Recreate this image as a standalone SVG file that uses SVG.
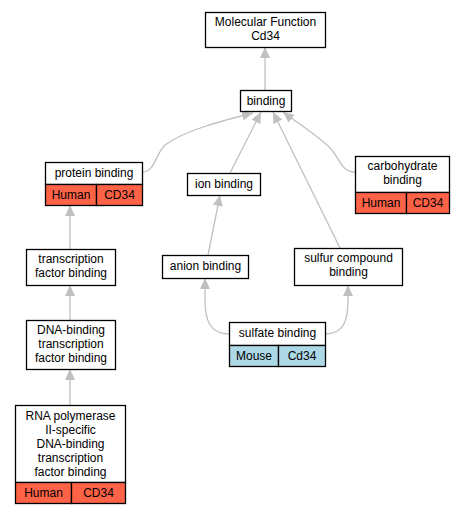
<svg xmlns="http://www.w3.org/2000/svg" width="465" height="515" viewBox="0 0 465 515">
<style>
.box{fill:#fff;stroke:#000;stroke-width:1.3}
.hu{fill:#ff6347;stroke:#000;stroke-width:1.3}
.mo{fill:#add8e6;stroke:#000;stroke-width:1.3}
text{font-family:"Liberation Sans",Arial,sans-serif;font-size:12px;text-anchor:middle;fill:#000}
.e{fill:none;stroke:#c0c0c0;stroke-width:1.3;marker-end:url(#ah)}
</style>
<defs>
<marker id="ah" markerUnits="userSpaceOnUse" viewBox="0 0 11 10" markerWidth="11" markerHeight="10" refX="11" refY="5" orient="auto">
<path d="M0,0 L11,5 L0,10 z" fill="#c0c0c0"/>
</marker>
</defs>
<rect width="465" height="515" fill="#fff"/>
<g id="edges">
<path class="e" d="M265,90 L265,47"/>
<path class="e" d="M142,172 C155,172 155,155 165,145 C185,130 225,120 253,113"/>
<path class="e" d="M230,173 L261,112"/>
<path class="e" d="M340,248 L273,112"/>
<path class="e" d="M355,172 C342,172 340,160 332,150 C318,135 297,123 283,112"/>
<path class="e" d="M70,249 L70,205"/>
<path class="e" d="M70,320 L70,285"/>
<path class="e" d="M70,405 L70,369"/>
<path class="e" d="M208,255 L220,195"/>
<path class="e" d="M229,334 C210,334 205,320 205,300 L205,278"/>
<path class="e" d="M325,334 C344,334 348,320 348,300 L348,285"/>
</g>
<g id="n_mf"><rect class="box" x="205.5" y="12.5" width="120" height="35"/><text x="265.5" y="26">Molecular Function</text><text x="265.5" y="40">Cd34</text></g>
<g id="n_binding"><rect class="box" x="240.5" y="90.5" width="51" height="21"/><text x="266" y="105">binding</text></g>
<g id="n_protein"><rect class="box" x="45.5" y="162.5" width="97" height="22"/><text x="94" y="177">protein binding</text>
<rect class="hu" x="45.5" y="184.5" width="51" height="21"/><rect class="hu" x="96.5" y="184.5" width="46" height="21"/><text x="71" y="199">Human</text><text x="119.5" y="199">CD34</text></g>
<g id="n_ion"><rect class="box" x="187.5" y="173.5" width="73" height="22"/><text x="224" y="188">ion binding</text></g>
<g id="n_carb"><rect class="box" x="355.5" y="156.5" width="94" height="36"/><text x="402.5" y="170">carbohydrate</text><text x="402.5" y="184">binding</text>
<rect class="hu" x="355.5" y="192.5" width="51" height="21"/><rect class="hu" x="406.5" y="192.5" width="43" height="21"/><text x="381" y="207">Human</text><text x="428" y="207">CD34</text></g>
<g id="n_tfb"><rect class="box" x="26.5" y="249.5" width="89" height="36"/><text x="71" y="263">transcription</text><text x="71" y="277">factor binding</text></g>
<g id="n_anion"><rect class="box" x="162.5" y="255.5" width="86" height="23"/><text x="205.5" y="270">anion binding</text></g>
<g id="n_sulfur"><rect class="box" x="294.5" y="248.5" width="108" height="37"/><text x="348.5" y="262">sulfur compound</text><text x="348.5" y="276">binding</text></g>
<g id="n_sulfate"><rect class="box" x="229.5" y="322.5" width="96" height="23"/><text x="277.5" y="337">sulfate binding</text>
<rect class="mo" x="229.5" y="345.5" width="49" height="21"/><rect class="mo" x="278.5" y="345.5" width="47" height="21"/><text x="254" y="360">Mouse</text><text x="302" y="360">Cd34</text></g>
<g id="n_dna"><rect class="box" x="26.5" y="320.5" width="89" height="49"/><text x="71" y="334">DNA-binding</text><text x="71" y="348">transcription</text><text x="71" y="362">factor binding</text></g>
<g id="n_rna"><rect class="box" x="15.5" y="405.5" width="110" height="77"/><text x="70.5" y="420">RNA polymerase</text><text x="70.5" y="434">II-specific</text><text x="70.5" y="448">DNA-binding</text><text x="70.5" y="462">transcription</text><text x="70.5" y="476">factor binding</text>
<rect class="hu" x="15.5" y="482.5" width="56" height="21"/><rect class="hu" x="71.5" y="482.5" width="54" height="21"/><text x="43.5" y="497">Human</text><text x="98.5" y="497">CD34</text></g>
</svg>
